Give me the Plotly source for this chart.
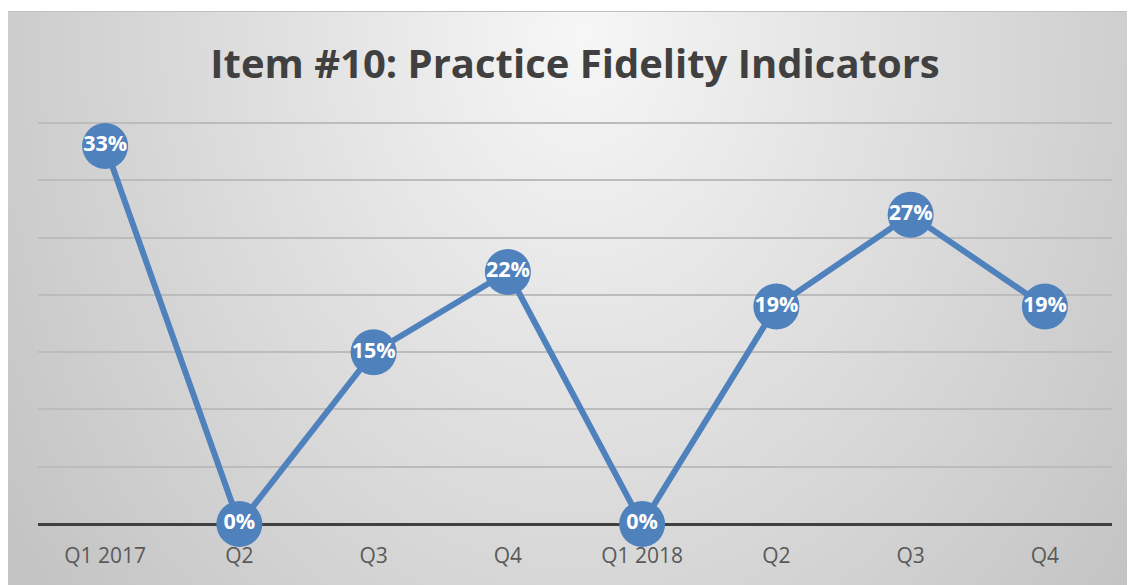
import base64
import struct
import zlib

import numpy as np
import plotly.graph_objects as go

# data
quarters = ["Q1 2017", "Q2", "Q3", "Q4", "Q1 2018", "Q2 ", "Q3 ", "Q4 "]
tick_text = ["Q1 2017", "Q2", "Q3", "Q4", "Q1 2018", "Q2", "Q3", "Q4"]
fidelity_pct = [33, 0, 15, 22, 0, 19, 27, 19]

W, H = 1135, 585
BODY = 8  # browser body margin, page coords -> figure coords
Y_TOP = 35.1  # a little above 35% so the top gridline is drawn
PLOT_L, PLOT_R, PLOT_B = 38 - BODY, 1112 - BODY, 524 - BODY
PLOT_T = round(PLOT_B - (524 - 123) * Y_TOP / 35)
BG_X0, BG_Y0 = 8 - BODY, 11 - BODY
BLUE = "#4f81bd"


def gradient_png(w, h):
    """Radial grey gradient (light near the title, darker at the edges) as a PNG data uri."""
    ys, xs = np.mgrid[0:h, 0:w]
    fx = xs / (w - 1) * 1127
    fy = ys / (h - 1) * 574
    d = np.sqrt(((fx - 570) / 600.0) ** 2 + ((fy - 20) / 760.0) ** 2)
    d = np.clip(d, 0, 1.15)
    val = (247 - (247 - 203) * d).clip(0, 255).astype(np.uint8)
    raw = b"".join(b"\x00" + row.tobytes() for row in val)

    def chunk(tag, data):
        c = struct.pack(">I", len(data)) + tag + data
        return c + struct.pack(">I", zlib.crc32(tag + data) & 0xFFFFFFFF)

    png = b"\x89PNG\r\n\x1a\n"
    png += chunk(b"IHDR", struct.pack(">IIBBBBB", w, h, 8, 0, 0, 0, 0))
    png += chunk(b"IDAT", zlib.compress(raw, 9))
    png += chunk(b"IEND", b"")
    return "data:image/png;base64," + base64.b64encode(png).decode()


def px_x(p):
    return (p - PLOT_L) / (PLOT_R - PLOT_L)


def px_y(p):
    return (PLOT_B - p) / (PLOT_B - PLOT_T)


fig = go.Figure()

fig.add_trace(go.Scatter(
    x=quarters,
    y=fidelity_pct,
    mode="lines+markers+text",
    line=dict(color=BLUE, width=6),
    marker=dict(color=BLUE, size=46, line=dict(width=0)),
    text=[f"{v}%" for v in fidelity_pct],
    textposition="middle center",
    textfont=dict(family="Open Sans", size=21.5, color="white", weight="bold"),
    cliponaxis=False,
    hoverinfo="skip",
    showlegend=False,
))

fig.update_layout(
    width=W,
    height=H,
    margin=dict(l=PLOT_L, r=W - PLOT_R, t=PLOT_T, b=H - PLOT_B, pad=0),
    paper_bgcolor="white",
    plot_bgcolor="rgba(0,0,0,0)",
    title=dict(
        text="<b>Item #10: Practice Fidelity Indicators</b>",
        font=dict(family="Open Sans", size=40, color="#404040"),
        x=0.5, xref="paper", xanchor="center",
        y=1 - (64 - BODY) / H, yref="container", yanchor="middle",
    ),
    font=dict(family="Open Sans", color="#595959"),
    images=[dict(
        source=gradient_png(282, 144),
        xref="paper", yref="paper",
        x=px_x(BG_X0), y=px_y(BG_Y0),
        sizex=px_x(W) - px_x(BG_X0), sizey=px_y(BG_Y0) - px_y(H),
        xanchor="left", yanchor="top",
        sizing="stretch", layer="below",
    )],
    shapes=[
        dict(type="line", xref="paper", yref="paper",
             x0=px_x(BG_X0), x1=px_x(W), y0=px_y(BG_Y0 + 0.5), y1=px_y(BG_Y0 + 0.5),
             line=dict(color="#bfbfbf", width=1), layer="below"),
    ],
)

fig.update_xaxes(
    type="category",
    range=[-0.5, 7.5],
    tickvals=quarters,
    ticktext=tick_text,
    showgrid=False,
    showline=False,
    zeroline=False,
    ticks="",
    ticklabelstandoff=17,
    tickfont=dict(family="Open Sans", size=21, color="#595959"),
)
fig.update_yaxes(
    range=[0, Y_TOP],
    tickvals=[5, 10, 15, 20, 25, 30, 35],
    showticklabels=False,
    showgrid=True,
    gridcolor="#bcbcbc",
    gridwidth=1.5,
    zeroline=True,
    zerolinecolor="#404040",
    zerolinewidth=3,
    showline=False,
)

fig.write_html("out.html")
